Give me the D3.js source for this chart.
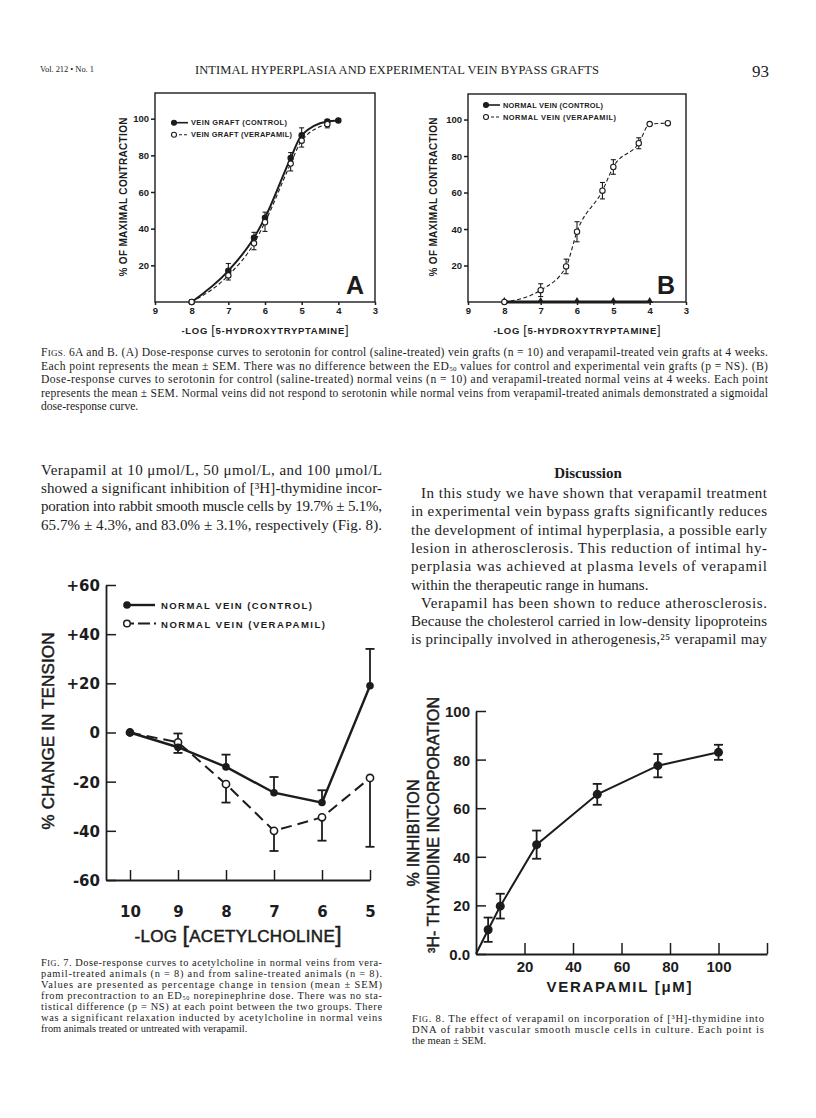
<!DOCTYPE html>
<html>
<head>
<meta charset="utf-8">
<script src="https://cdn.jsdelivr.net/npm/d3@7"></script>
<style>
  body { margin: 0; background: #fff; }
  svg { display: block; }
</style>
</head>
<body>
<svg id="page"></svg>
<script>
/* ---- data ---- */

// Fig 6A: -log[5-HT] vs % of maximal contraction, vein grafts
var doses6a = [8, 7, 6.3, 6, 5.3, 5, 4.3, 4];
var graftControl = [0, 17, 35, 46, 78.5, 91, 98.5, 99];
var graftControlSem = [0, 4, 3, 3, 3, 4, 1, 0];
var dosesGraftVerapamil = [8, 7, 6.3, 6, 5.3, 5, 4.3];
var graftVerapamil = [0, 14.5, 32, 43.5, 75.5, 88, 97];
var graftVerapamilSem = [0, 2.5, 3.5, 5, 4, 3.5, 2];

// Fig 6B: normal veins
var dosesNormalControl = [8, 7, 6, 5, 4];
var normalControl = [0, 0, 0, 0, 0];
var dosesNormalVerapamil = [8, 7, 6.3, 6, 5.3, 5, 4.3, 4, 3.5];
var normalVerapamil = [0, 6.5, 19.5, 38.5, 61, 74, 87, 97.5, 98];
var normalVerapamilSem = [0, 3.5, 4, 5.5, 4.5, 4, 3, 0, 0];

var fig6XTicks = [9, 8, 7, 6, 5, 4, 3];
var fig6YTicks = [20, 40, 60, 80, 100];

// Fig 7: -log[acetylcholine] vs % change in tension
var achDoses = [10, 9, 8, 7, 6, 5];
var achControl = [0, -6, -14, -24.5, -28.5, 19];
var achControlSem = [0, 2.3, 5, 6.4, 5, 15];
var achVerapamil = [0, -4, -21, -40, -34.5, -18.5];
var achVerapamilSem = [0, 3.6, 7.5, 8.2, 9.5, 28];
var fig7YTicks = [60, 40, 20, 0, -20, -40, -60];

// Fig 8: verapamil (uM) vs % inhibition of 3H-thymidine incorporation
var verapamilConc = [5, 10, 25, 50, 75, 100];
var inhibition = [10, 19.7, 45, 65.7, 77.5, 83.0];
var inhibitionSem = [5, 5.1, 5.8, 4.3, 4.8, 3.1];
var fig8XTicks = [20, 40, 60, 80, 100, 120];
var fig8YTicks = [0, 20, 40, 60, 80, 100];

// page text
var headerLeft = 'Vol. 212 \u2022 No. 1';
var headerTitle = 'INTIMAL HYPERPLASIA AND EXPERIMENTAL VEIN BYPASS GRAFTS';
var pageNumber = '93';

var fig6Caption = [
  'F{sc:IGS.} 6A and B. (A) Dose-response curves to serotonin for control (saline-treated) vein grafts (n = 10) and verapamil-treated vein grafts at 4 weeks.',
  'Each point represents the mean \u00b1 SEM. There was no difference between the ED{sub:50} values for control and experimental vein grafts (p = NS). (B)',
  'Dose-response curves to serotonin for control (saline-treated) normal veins (n = 10) and verapamil-treated normal veins at 4 weeks. Each point',
  'represents the mean \u00b1 SEM. Normal veins did not respond to serotonin while normal veins from verapamil-treated animals demonstrated a sigmoidal',
  'dose-response curve.'
];

var leftParagraph = [
  'Verapamil at 10 \u03bcmol/L, 50 \u03bcmol/L, and 100 \u03bcmol/L',
  'showed a significant inhibition of [\u00b3H]-thymidine incor-',
  'poration into rabbit smooth muscle cells by 19.7% \u00b1 5.1%,',
  '65.7% \u00b1 4.3%, and 83.0% \u00b1 3.1%, respectively (Fig. 8).'
];

var discussion = [
  'In this study we have shown that verapamil treatment',
  'in experimental vein bypass grafts significantly reduces',
  'the development of intimal hyperplasia, a possible early',
  'lesion in atherosclerosis. This reduction of intimal hy-',
  'perplasia was achieved at plasma levels of verapamil',
  'within the therapeutic range in humans.',
  'Verapamil has been shown to reduce atherosclerosis.',
  'Because the cholesterol carried in low-density lipoproteins',
  'is principally involved in atherogenesis,\u00b2\u2075 verapamil may'
];

var fig7Caption = [
  'F{sc:IG}. 7. Dose-response curves to acetylcholine in normal veins from vera-',
  'pamil-treated animals (n = 8) and from saline-treated animals (n = 8).',
  'Values are presented as percentage change in tension (mean \u00b1 SEM)',
  'from precontraction to an ED{sub:50} norepinephrine dose. There was no sta-',
  'tistical difference (p = NS) at each point between the two groups. There',
  'was a significant relaxation inducted by acetylcholine in normal veins',
  'from animals treated or untreated with verapamil.'
];

var fig8Caption = [
  'F{sc:IG}. 8. The effect of verapamil on incorporation of [\u00b3H]-thymidine into',
  'DNA of rabbit vascular smooth muscle cells in culture. Each point is',
  'the mean \u00b1 SEM.'
];

/* ---- helpers ---- */
var ink = '#1c1c1c';
var serif = '"Liberation Serif", "DejaVu Serif", serif';
var sans = '"Liberation Sans", Arial, sans-serif';
var wide = '"DejaVu Sans", "Liberation Sans", sans-serif';
var intFormat = d3.format('d');

var svg = d3.select('#page').attr('width', 816).attr('height', 1118);
svg.append('rect').attr('width', 816).attr('height', 1118).attr('fill', '#fff');

// text with {sub:..} {sc:..} {big:..} markers
function addText (g, x, y, str, o) {
  o = o || {};
  var size = o.size || 11;
  var t = g.append('text')
    .attr('x', x).attr('y', y)
    .attr('font-size', size)
    .attr('font-family', o.family || serif)
    .attr('font-weight', o.weight || 'normal')
    .attr('text-anchor', o.anchor || 'start')
    .attr('fill', ink);
  if (o.stroke) t.attr('stroke', ink).attr('stroke-width', o.stroke);
  if (o.width) t.attr('textLength', o.width).attr('lengthAdjust', o.adjust || 'spacing');
  if (o.rotate) t.attr('transform', 'rotate(' + o.rotate + ',' + x + ',' + y + ')');
  var pending = 0;
  str.split(/(\{[a-z]+:[^}]*\})/).forEach(function (p) {
    if (!p) return;
    var m = p.match(/^\{([a-z]+):([^}]*)\}$/);
    var span = t.append('tspan');
    var dy = pending;
    pending = 0;
    if (!m) {
      span.text(p);
    } else if (m[1] === 'sub') {
      dy += size * 0.14;
      pending = -size * 0.14;
      span.attr('font-size', size * 0.6).text(m[2]);
    } else if (m[1] === 'sc') {
      span.attr('font-size', size * 0.78).text(m[2]);
    } else if (m[1] === 'big') {
      span.attr('font-size', size * 1.35).attr('font-weight', 'normal').text(m[2]);
    }
    if (dy) span.attr('dy', dy);
  });
  return t;
}

function addLines (g, x, y0, lh, lines, width, o) {
  lines.forEach(function (line, i) {
    var last = i === lines.length - 1;
    var opts = Object.assign({}, o);
    if (!last || o.justifyLast) opts.width = width;
    addText(g, x, y0 + i * lh, line, opts);
  });
}

function errBar (g, x, y0, y1, cap) {
  g.append('line').attr('x1', x).attr('x2', x).attr('y1', y0).attr('y2', y1);
  g.append('line').attr('x1', x - cap / 2).attr('x2', x + cap / 2).attr('y1', y1).attr('y2', y1);
}

function styleAxis (a, size, family, weight) {
  a.selectAll('line').attr('stroke', ink).attr('stroke-width', 1.5);
  a.selectAll('path').attr('stroke', ink).attr('stroke-width', 1.8);
  a.selectAll('text').attr('fill', ink).attr('font-size', size)
    .attr('font-family', family).attr('font-weight', weight);
}

/* ---- header ---- */
var head = svg.append('g');
addText(head, 40, 72, headerLeft, {size: 8.5, width: 54});
addText(head, 397, 74, headerTitle, {size: 12.5, anchor: 'middle', width: 404});
addText(head, 769, 77, pageNumber, {size: 17, anchor: 'end'});

/* ---- Fig 6 panels ---- */
function drawFig6 (p) {
  var g = svg.append('g');
  var x = d3.scaleLinear().domain([9, 3]).range([p.left, p.right]);
  var y = d3.scaleLinear().domain([0, 114]).range([302, p.top]);

  g.append('rect')
    .attr('x', p.left).attr('y', p.top)
    .attr('width', p.right - p.left).attr('height', 302 - p.top)
    .attr('fill', 'none').attr('stroke', ink).attr('stroke-width', 1.4);

  var ax = g.append('g').attr('transform', 'translate(0,302)')
    .call(d3.axisBottom(x).tickValues(fig6XTicks).tickFormat(intFormat)
      .tickSize(3).tickPadding(2).tickSizeOuter(0));
  var ay = g.append('g').attr('transform', 'translate(' + p.left + ',0)')
    .call(d3.axisLeft(y).tickValues(fig6YTicks).tickFormat(intFormat)
      .tickSize(4).tickPadding(2).tickSizeOuter(0));
  [ax, ay].forEach(function (a) {
    a.select('.domain').remove();
    styleAxis(a, 9.5, sans, 'bold');
  });

  var curve = d3.line()
    .x(function (d) { return x(d[0]); })
    .y(function (d) { return y(d[1]); })
    .curve(d3.curveMonotoneX);
  var straight = d3.line()
    .x(function (d) { return x(d[0]); })
    .y(function (d) { return y(d[1]); });

  var bars = g.append('g').attr('stroke', ink).attr('stroke-width', 1.1);

  p.series.forEach(function (s) {
    var pts = s.doses.map(function (d, i) { return [d, s.values[i], s.sem ? s.sem[i] : 0]; });
    g.append('path').datum(pts)
      .attr('d', s.flat ? straight : curve)
      .attr('fill', 'none').attr('stroke', ink)
      .attr('stroke-width', s.width)
      .attr('stroke-dasharray', s.dash || null);
    pts.forEach(function (d) {
      if (d[2] > 0) {
        if (s.both) {
          errBar(bars, x(d[0]), y(d[1]), y(d[1] + d[2]), 5);
          errBar(bars, x(d[0]), y(d[1]), y(d[1] - d[2]), 5);
        } else {
          errBar(bars, x(d[0]), y(d[1]), y(d[1] + s.dir * d[2]), 5);
        }
      }
    });
    pts.forEach(function (d) {
      if (s.marker === 'triangle') {
        g.append('path')
          .attr('d', d3.symbol().type(d3.symbolTriangle).size(22)())
          .attr('transform', 'translate(' + x(d[0]) + ',' + (y(d[1]) - 1) + ')')
          .attr('fill', ink);
      } else {
        g.append('circle').attr('cx', x(d[0])).attr('cy', y(d[1])).attr('r', 2.7)
          .attr('fill', s.open ? '#fff' : ink).attr('stroke', ink).attr('stroke-width', 1.1);
      }
    });
  });

  // legend
  p.legend.forEach(function (l, i) {
    var ly = p.legendY + i * 12;
    var lx = p.legendX;
    g.append('line').attr('x1', lx).attr('x2', lx + 14).attr('y1', ly).attr('y2', ly)
      .attr('stroke', ink).attr('stroke-width', l.open ? 1.1 : 1.6)
      .attr('stroke-dasharray', l.open ? '3,2' : null);
    g.append('circle').attr('cx', lx).attr('cy', ly).attr('r', 2.5)
      .attr('fill', l.open ? '#fff' : ink).attr('stroke', ink).attr('stroke-width', 1.1);
    addText(g, lx + 17, ly + 2.6, l.text, {size: 7.4, family: sans, weight: 'bold', width: l.w});
  });

  addText(g, p.letterX, 293.5, p.letter, {size: 25, family: sans, weight: 'bold'});
  addText(g, p.titleX, 197, '% OF MAXIMAL CONTRACTION',
    {size: 10, family: sans, weight: 'bold', anchor: 'middle', rotate: -90, width: 159});
  addText(g, (p.left + p.right) / 2, 334, '-LOG {big:[}5-HYDROXYTRYPTAMINE{big:]}',
    {size: 9.5, family: sans, weight: 'bold', anchor: 'middle', width: 167});
}

drawFig6({
  left: 155, right: 375, top: 93,
  letter: 'A', letterX: 346, titleX: 127,
  legendX: 174, legendY: 122.7,
  legend: [{text: 'VEIN GRAFT (CONTROL)', w: 96}, {text: 'VEIN GRAFT (VERAPAMIL)', w: 101, open: true}],
  series: [
    {doses: doses6a, values: graftControl, sem: graftControlSem, width: 2, dir: 1},
    {doses: dosesGraftVerapamil, values: graftVerapamil, sem: graftVerapamilSem, width: 1.1, dash: '4,2.5', open: true, dir: -1}
  ]
});

drawFig6({
  left: 468, right: 686, top: 94,
  letter: 'B', letterX: 657, titleX: 437,
  legendX: 486, legendY: 105,
  legend: [{text: 'NORMAL VEIN (CONTROL)', w: 100}, {text: 'NORMAL VEIN (VERAPAMIL)', w: 113, open: true}],
  series: [
    {doses: dosesNormalControl, values: normalControl, width: 3, flat: true, marker: 'triangle'},
    {doses: dosesNormalVerapamil, values: normalVerapamil, sem: normalVerapamilSem, width: 1.1, dash: '4,2.5', open: true, both: true}
  ]
});

var cap6 = svg.append('g');
addLines(cap6, 41, 356, 13.5, fig6Caption, 727, {size: 11.6});

/* ---- body text ---- */
var body = svg.append('g');
addLines(body, 41, 475, 18.2, leftParagraph, 341, {size: 15, justifyLast: true});
addText(body, 588, 478, 'Discussion', {size: 15, weight: 'bold', anchor: 'middle'});
discussion.forEach(function (line, i) {
  var indent = (i === 0 || i === 6) ? 10 : 0;
  var opts = {size: 15};
  if (i !== 5) opts.width = 356 - indent;
  addText(body, 411 + indent, 498 + i * 18.3, line, opts);
});

/* ---- Fig 7 ---- */
(function () {
  var g = svg.append('g');
  var x = d3.scaleLinear().domain([10.5, 5]).range([106, 370]);
  var y = d3.scaleLinear().domain([-60, 60]).range([880, 585]);

  var ay = g.append('g').attr('transform', 'translate(106,0)')
    .call(d3.axisLeft(y).tickValues(fig7YTicks).tickSize(-10).tickPadding(6).tickSizeOuter(0)
      .tickFormat(function (d) { return d > 0 ? '+' + d : (d < 0 ? '-' + (-d) : '0'); }));
  var ax = g.append('g').attr('transform', 'translate(0,880)')
    .call(d3.axisBottom(x).tickValues(achDoses).tickFormat(intFormat)
      .tickSize(-10).tickPadding(26).tickSizeOuter(0));
  styleAxis(ay, 15, wide, 'bold');
  styleAxis(ax, 15, wide, 'bold');
  ay.selectAll('text').attr('dy', '0.36em');

  var line = d3.line()
    .x(function (d) { return x(d[0]); })
    .y(function (d) { return y(d[1]); });

  var ctrl = achDoses.map(function (d, i) { return [d, achControl[i], achControlSem[i]]; });
  var vera = achDoses.map(function (d, i) { return [d, achVerapamil[i], achVerapamilSem[i]]; });

  g.append('path').datum(vera).attr('d', line).attr('fill', 'none')
    .attr('stroke', ink).attr('stroke-width', 2).attr('stroke-dasharray', '11,6');
  g.append('path').datum(ctrl).attr('d', line).attr('fill', 'none')
    .attr('stroke', ink).attr('stroke-width', 2.4);

  // bars point away from the other group
  var bars = g.append('g').attr('stroke', ink).attr('stroke-width', 1.8);
  achDoses.forEach(function (d, i) {
    var dir = achControl[i] >= achVerapamil[i] ? 1 : -1;
    if (achControlSem[i]) errBar(bars, x(d), y(achControl[i]), y(achControl[i] + dir * achControlSem[i]), 9);
    if (achVerapamilSem[i]) errBar(bars, x(d), y(achVerapamil[i]), y(achVerapamil[i] - dir * achVerapamilSem[i]), 9);
  });

  vera.forEach(function (d) {
    g.append('circle').attr('cx', x(d[0])).attr('cy', y(d[1])).attr('r', 3.6)
      .attr('fill', '#fff').attr('stroke', ink).attr('stroke-width', 1.6);
  });
  ctrl.forEach(function (d) {
    g.append('circle').attr('cx', x(d[0])).attr('cy', y(d[1])).attr('r', 3.8).attr('fill', ink);
  });

  // legend
  g.append('line').attr('x1', 127).attr('x2', 155).attr('y1', 605).attr('y2', 605)
    .attr('stroke', ink).attr('stroke-width', 2.4);
  g.append('circle').attr('cx', 127).attr('cy', 605).attr('r', 3.8).attr('fill', ink);
  g.append('line').attr('x1', 131).attr('x2', 156).attr('y1', 623.5).attr('y2', 623.5)
    .attr('stroke', ink).attr('stroke-width', 2).attr('stroke-dasharray', '3,4,9,0');
  g.append('circle').attr('cx', 127).attr('cy', 623.5).attr('r', 3.3)
    .attr('fill', '#fff').attr('stroke', ink).attr('stroke-width', 1.5);
  addText(g, 161, 609, 'NORMAL VEIN  (CONTROL)', {size: 9.5, family: sans, weight: 'bold', width: 151});
  addText(g, 161, 627.5, 'NORMAL VEIN  (VERAPAMIL)', {size: 9.5, family: sans, weight: 'bold', width: 164});

  addText(g, 54, 731, '% CHANGE IN TENSION',
    {size: 17, family: sans, anchor: 'middle', rotate: -90, width: 197, stroke: 0.5});
  addText(g, 238, 942, '-LOG {big:[}ACETYLCHOLINE{big:]}',
    {size: 17, family: sans, anchor: 'middle', width: 207, stroke: 0.5});
})();

addLines(svg.append('g'), 41, 966, 11, fig7Caption, 341, {size: 10.4});

/* ---- Fig 8 ---- */
(function () {
  var g = svg.append('g');
  var x = d3.scaleLinear().domain([0, 120]).range([476, 767]);
  var y = d3.scaleLinear().domain([0, 100]).range([954, 711]);

  var ay = g.append('g').attr('transform', 'translate(476,0)')
    .call(d3.axisLeft(y).tickValues(fig8YTicks).tickSize(-10).tickPadding(6).tickSizeOuter(0)
      .tickFormat(function (d) { return d === 0 ? '0.0' : d; }));
  var ax = g.append('g').attr('transform', 'translate(0,954)')
    .call(d3.axisBottom(x).tickValues(fig8XTicks).tickSize(-11).tickPadding(7).tickSizeOuter(0)
      .tickFormat(function (d) { return d === 120 ? '' : d; }));
  styleAxis(ay, 15, sans, 'bold');
  styleAxis(ax, 15, sans, 'bold');
  ay.selectAll('text').attr('dy', '0.36em');

  var pts = verapamilConc.map(function (c, i) { return [c, inhibition[i], inhibitionSem[i]]; });
  // the curve is drawn from the origin of the plot
  g.append('path').datum([[0, 0]].concat(pts))
    .attr('d', d3.line().x(function (d) { return x(d[0]); }).y(function (d) { return y(d[1]); }))
    .attr('fill', 'none').attr('stroke', ink).attr('stroke-width', 2);

  var bars = g.append('g').attr('stroke', ink).attr('stroke-width', 1.8);
  pts.forEach(function (d) {
    errBar(bars, x(d[0]), y(d[1]), y(d[1] + d[2]), 9);
    errBar(bars, x(d[0]), y(d[1]), y(d[1] - d[2]), 9);
  });
  pts.forEach(function (d) {
    g.append('circle').attr('cx', x(d[0])).attr('cy', y(d[1])).attr('r', 4.5).attr('fill', ink);
  });

  addText(g, 419, 833, '% INHIBITION',
    {size: 16, family: sans, anchor: 'middle', rotate: -90, width: 107, stroke: 0.5});
  addText(g, 439, 825, '\u00b3H- THYMIDINE INCORPORATION',
    {size: 16, family: sans, anchor: 'middle', rotate: -90, width: 256, stroke: 0.5});
  addText(g, 619, 992, 'VERAPAMIL   [\u03bcM]',
    {size: 15, family: sans, weight: 'bold', anchor: 'middle', width: 145});
})();

addLines(svg.append('g'), 412, 1022, 11, fig8Caption, 352, {size: 10.6});
</script>
</body>
</html>
